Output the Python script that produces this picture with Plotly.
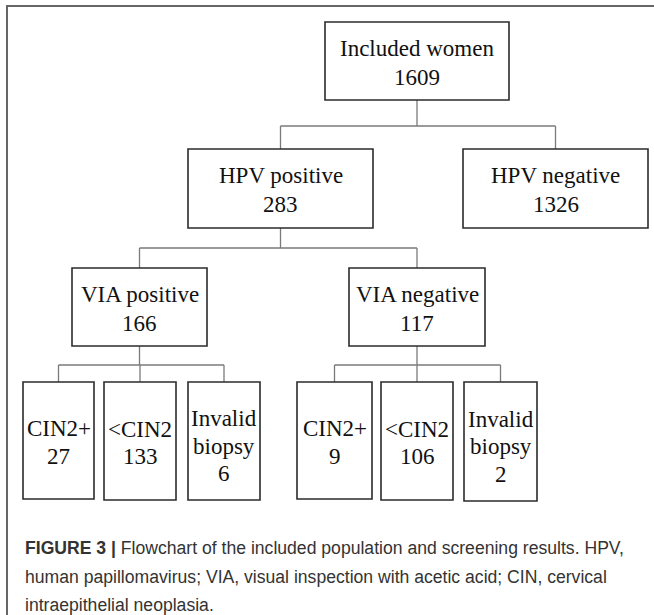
import plotly.graph_objects as go

# ---- data ----
node_labels = ["Included women", "HPV positive", "HPV negative", "VIA positive", "VIA negative",
               "CIN2+", "<CIN2", "Invalid biopsy", "CIN2+", "<CIN2", "Invalid biopsy"]
node_counts = [1609, 283, 1326, 166, 117, 27, 133, 6, 9, 106, 2]
node_parent = [None, 0, 0, 1, 1, 3, 3, 3, 4, 4, 4]
caption_lines = [
    ("FIGURE 3 |", " Flowchart of the included population and screening results. HPV,"),
    ("", "human papillomavirus; VIA, visual inspection with acetic acid; CIN, cervical"),
    ("", "intraepithelial neoplasia."),
]

# ---- layout (pixel geometry, y downward) ----
W, H = 654, 615
boxes = [  # x0, x1, y0, y1
    (325, 509, 22, 100),
    (188, 373, 149, 228),
    (463, 648, 149, 228),
    (72, 207, 268, 346),
    (349, 485, 268, 346),
    (23, 94, 382, 499),
    (104, 176, 382, 500),
    (188, 260, 382, 500),
    (297, 372, 382, 499),
    (381, 453, 382, 500),
    (464, 537, 382, 501),
]
bus_y = {0: 126, 1: 248, 3: 365, 4: 365}
line_gap = 27.5
FONT_SERIF = "Liberation Serif, Times New Roman, serif"
FONT_SANS = "Liberation Sans, Arial, Helvetica, sans-serif"
BOX_COLOR = "#2b2b2b"
LINK_COLOR = "#7a7a7a"

fig = go.Figure()
shapes = []
annotations = []

# outer frame (extends past right/bottom of the picture)
shapes.append(dict(type="rect", xref="x", yref="y", x0=7, x1=W + 40, y0=6, y1=H + 40,
                   line=dict(color="#666666", width=2), fillcolor="rgba(0,0,0,0)"))

def cx(b):
    return (b[0] + b[1]) / 2

# connectors
children = {}
for i, p in enumerate(node_parent):
    if p is not None:
        children.setdefault(p, []).append(i)
for p, kids in children.items():
    pb = boxes[p]
    by = bus_y[p]
    px = cx(pb)
    shapes.append(dict(type="line", xref="x", yref="y", x0=px, x1=px, y0=pb[3], y1=by,
                       line=dict(color=LINK_COLOR, width=1.3)))
    xs = [cx(boxes[k]) for k in kids]
    shapes.append(dict(type="line", xref="x", yref="y", x0=min(xs), x1=max(xs), y0=by, y1=by,
                       line=dict(color=LINK_COLOR, width=1.3)))
    for k in kids:
        kb = boxes[k]
        shapes.append(dict(type="line", xref="x", yref="y", x0=cx(kb), x1=cx(kb), y0=by, y1=kb[2],
                           line=dict(color=LINK_COLOR, width=1.3)))

# boxes and texts
for i, b in enumerate(boxes):
    shapes.append(dict(type="rect", xref="x", yref="y", x0=b[0], x1=b[1], y0=b[2], y1=b[3],
                       line=dict(color=BOX_COLOR, width=1.6), fillcolor="white"))
    words = node_labels[i]
    if i >= 5 and " " in words:
        lines = words.split(" ") + [str(node_counts[i])]
    else:
        lines = [words, str(node_counts[i])]
    n = len(lines)
    if i < 5:
        y_first = b[2] + 26.5
    else:
        mid = (b[2] + b[3]) / 2 + (2 if n == 2 else 5)
        y_first = mid - (n - 1) * line_gap / 2
    for j, t in enumerate(lines):
        annotations.append(dict(x=cx(b), y=y_first + j * (29 if i < 5 else line_gap),
                                xref="x", yref="y",
                                text=t.replace("<", "&lt;"), showarrow=False,
                                xanchor="center", yanchor="middle",
                                font=dict(family=FONT_SERIF, size=23, color="#111111")))

# caption
cap_y = [548, 577, 605]
for (bold, rest), y in zip(caption_lines, cap_y):
    txt = (f"<b>{bold}</b>" if bold else "") + rest
    annotations.append(dict(x=23, y=y, xref="x", yref="y", text=txt, showarrow=False,
                            xanchor="left", yanchor="middle",
                            font=dict(family=FONT_SANS, size=17.6, color="#333333")))

fig.update_layout(
    width=W, height=H, margin=dict(l=0, r=0, t=0, b=0),
    paper_bgcolor="white", plot_bgcolor="white",
    xaxis=dict(range=[0, W], visible=False, fixedrange=True),
    yaxis=dict(range=[H, 0], visible=False, fixedrange=True),
    shapes=shapes, annotations=annotations, showlegend=False,
)
fig.write_html("out.html", config={"displayModeBar": False, "staticPlot": True},
               post_script="document.body.style.margin='0';document.body.style.overflow='hidden';")
